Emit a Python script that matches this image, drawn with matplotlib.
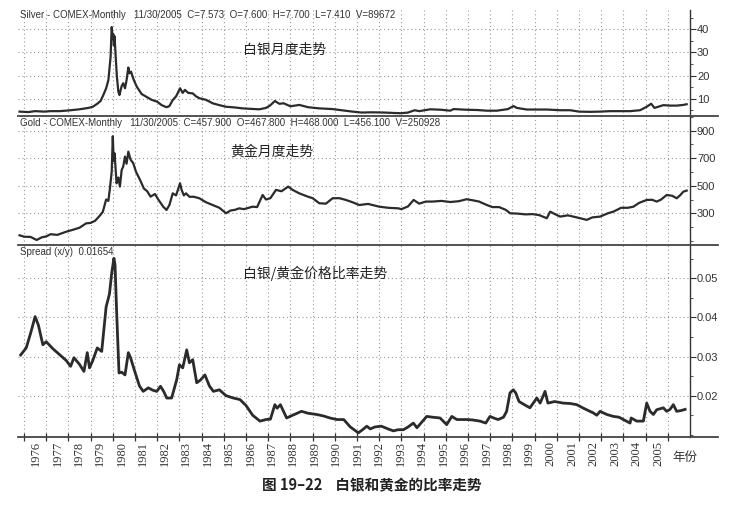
import matplotlib
matplotlib.use("Agg")
import matplotlib.pyplot as plt
from matplotlib.lines import Line2D
from matplotlib.ticker import MultipleLocator, FixedLocator

plt.rcParams['font.family'] = ['Liberation Sans', 'Noto Sans CJK SC', 'DejaVu Sans']

# 白银月度价格
silver_t = [1975.8, 1976.2, 1976.5, 1976.9, 1977.2, 1977.6, 1978.0, 1978.5, 1978.9, 1979.1,
            1979.3, 1979.45, 1979.57, 1979.7, 1979.8, 1979.9, 1979.95, 1980.0, 1980.02, 1980.05,
            1980.08, 1980.12, 1980.18, 1980.25, 1980.3, 1980.4, 1980.47, 1980.55, 1980.62, 1980.7,
            1980.75, 1980.82, 1980.95, 1981.08, 1981.3, 1981.5, 1981.75, 1982.0, 1982.2, 1982.42,
            1982.55, 1982.7, 1982.85, 1983.03, 1983.15, 1983.25, 1983.4, 1983.6, 1983.75, 1983.9,
            1984.2, 1984.5, 1984.8, 1985.1, 1985.5, 1985.85, 1986.2, 1986.6, 1986.9, 1987.08,
            1987.3, 1987.5, 1987.7, 1988.0, 1988.4, 1988.8, 1989.3, 1989.9, 1990.3, 1990.8,
            1991.2, 1991.7, 1992.2, 1992.7, 1993.0, 1993.3, 1993.6, 1993.8, 1994.3, 1994.8,
            1995.2, 1995.35, 1995.95, 1996.4, 1996.85, 1997.3, 1997.8, 1998.05, 1998.2, 1998.65,
            1999.1, 1999.55, 2000.15, 2000.6, 2001.0, 2001.5, 2001.95, 2002.4, 2002.85, 2003.3,
            2003.75, 2004.05, 2004.25, 2004.4, 2004.6, 2004.8, 2005.1, 2005.4, 2005.7, 2005.85]
silver_v = [4.4, 4.2, 4.6, 4.4, 4.6, 4.6, 4.9, 5.4, 6.0, 6.5,
            7.8, 9.0, 11.5, 14.5, 18, 28, 41, 36, 38, 33,
            37, 30, 20, 13, 11.6, 15.5, 16.7, 14.5, 18, 23.5,
            21, 21.7, 18, 15.2, 12, 10.9, 9.5, 8.7, 7.2, 6.3,
            6.8, 9.4, 11, 14.5, 12.5, 13.8, 12.5, 12.3, 11, 10.2,
            9.5, 8, 7.2, 6.5, 6.2, 5.8, 5.6, 5.4, 6.0, 7.0,
            9.0, 7.8, 8.0, 6.7, 7.3, 6.3, 5.8, 5.5, 5.0, 4.4,
            4.0, 4.1, 4.0, 3.8, 3.7, 4.0, 5.0, 4.6, 5.4, 5.2,
            4.8, 5.5, 5.2, 5.1, 4.8, 4.8, 5.5, 6.8, 6.0, 5.3,
            5.3, 5.3, 5.0, 5.0, 4.4, 4.3, 4.4, 4.6, 4.6, 4.6,
            5.0, 6.5, 7.8, 6.0, 6.6, 7.2, 7.0, 7.0, 7.3, 7.6]

# 黄金月度价格
gold_t = [1975.8, 1976.0, 1976.3, 1976.57, 1976.8, 1977.0, 1977.2, 1977.5, 1977.9, 1978.2,
          1978.5, 1978.8, 1979.0, 1979.2, 1979.4, 1979.55, 1979.7, 1979.8, 1979.87, 1979.95,
          1980.0, 1980.04, 1980.08, 1980.13, 1980.17, 1980.25, 1980.32, 1980.4, 1980.47, 1980.55,
          1980.62, 1980.7, 1980.8, 1980.92, 1981.05, 1981.23, 1981.4, 1981.55, 1981.7, 1981.9,
          1982.05, 1982.27, 1982.42, 1982.55, 1982.7, 1982.85, 1983.03, 1983.1, 1983.2, 1983.3,
          1983.45, 1983.65, 1983.9, 1984.2, 1984.5, 1984.8, 1985.1, 1985.3, 1985.5, 1985.7,
          1985.9, 1986.3, 1986.5, 1986.75, 1986.9, 1987.1, 1987.35, 1987.6, 1987.9, 1988.1,
          1988.4, 1988.8, 1989.0, 1989.3, 1989.6, 1989.9, 1990.2, 1990.5, 1990.8, 1991.1,
          1991.5, 1992.0, 1992.4, 1992.86, 1993.0, 1993.3, 1993.55, 1993.8, 1994.1, 1994.4,
          1994.8, 1995.2, 1995.6, 1995.93, 1996.2, 1996.5, 1996.85, 1997.1, 1997.4, 1997.7,
          1997.9, 1998.2, 1998.6, 1998.9, 1999.2, 1999.55, 1999.7, 1999.9, 2000.15, 2000.5,
          2000.9, 2001.35, 2001.6, 2001.95, 2002.3, 2002.55, 2002.9, 2003.2, 2003.45, 2003.7,
          2004.05, 2004.3, 2004.5, 2004.7, 2004.95, 2005.2, 2005.4, 2005.55, 2005.7, 2005.85]
gold_v = [140, 130, 128, 106, 125, 132, 148, 143, 166, 180,
          195, 227, 230, 245, 280, 310, 400, 390, 480, 600,
          860, 680, 736, 620, 518, 560, 494, 615, 640, 712,
          660, 748, 690, 664, 600, 542, 480, 460, 421, 440,
          400, 348, 324, 360, 445, 430, 518, 470, 430, 445,
          420, 420, 409, 380, 360, 340, 300, 320, 325, 336,
          330, 348, 345, 433, 400, 410, 470, 460, 494, 470,
          445, 420, 410, 373, 370, 409, 410, 397, 380, 360,
          368, 348, 340, 336, 330, 350, 397, 370, 385, 385,
          390, 382, 388, 402, 395, 385, 360, 345, 345, 325,
          300, 298, 292, 294, 287, 264, 312, 295, 276, 285,
          270, 252, 270, 276, 300, 312, 340, 340, 348, 375,
          397, 398, 385, 400, 433, 427, 409, 430, 457, 465]

# 白银/黄金价格比率
spread_t = [1975.85, 1976.1, 1976.3, 1976.5, 1976.65, 1976.85, 1977.0, 1977.3, 1977.6, 1977.9,
            1978.1, 1978.25, 1978.5, 1978.7, 1978.85, 1978.95, 1979.1, 1979.3, 1979.5, 1979.7,
            1979.85, 1979.95, 1980.05, 1980.1, 1980.17, 1980.28, 1980.4, 1980.55, 1980.7, 1980.8,
            1981.0, 1981.2, 1981.37, 1981.6, 1981.8, 1981.98, 1982.15, 1982.3, 1982.43, 1982.65,
            1982.88, 1983.0, 1983.15, 1983.33, 1983.45, 1983.6, 1983.78, 1983.95, 1984.15, 1984.35,
            1984.53, 1984.8, 1985.1, 1985.43, 1985.73, 1986.0, 1986.3, 1986.63, 1986.9, 1987.1,
            1987.3, 1987.4, 1987.55, 1987.83, 1988.1, 1988.5, 1988.8, 1989.18, 1989.5, 1989.78,
            1990.1, 1990.4, 1990.7, 1991.06, 1991.25, 1991.44, 1991.6, 1991.8, 1992.1, 1992.4,
            1992.64, 1992.85, 1993.09, 1993.3, 1993.54, 1993.7, 1994.14, 1994.4, 1994.74, 1995.04,
            1995.27, 1995.5, 1995.94, 1996.2, 1996.54, 1996.8, 1996.99, 1997.2, 1997.36, 1997.6,
            1997.74, 1997.89, 1998.04, 1998.15, 1998.3, 1998.42, 1998.6, 1998.79, 1999.1, 1999.25,
            1999.47, 1999.6, 1999.9, 2000.29, 2000.6, 2000.9, 2001.2, 2001.64, 2001.8, 2001.95,
            2002.25, 2002.55, 2002.8, 2003.0, 2003.3, 2003.35, 2003.6, 2003.9, 2004.05, 2004.2,
            2004.35, 2004.5, 2004.8, 2004.95, 2005.1, 2005.25, 2005.4, 2005.6, 2005.78]
spread_v = [.0304, .0322, .036, .0402, .038, .033, .0338, .032, .0305, .029,
            .0275, .0297, .028, .0262, .031, .0271, .029, .0322, .0313, .0427,
            .046, .0513, .0551, .0535, .0419, .0258, .026, .0253, .031, .0297,
            .026, .0225, .0211, .0220, .0214, .0211, .0224, .021, .0194, .0194,
            .0241, .0279, .0271, .0317, .0284, .0292, .0233, .024, .0253, .0225,
            .0211, .0215, .020, .0194, .019, .0175, .015, .0135, .0139, .014,
            .0177, .0168, .0177, .0143, .015, .016, .0155, .0152, .0148, .0143,
            .0139, .0139, .012, .0105, .0113, .0122, .0115, .012, .0122, .0115,
            .011, .0113, .0113, .012, .013, .0118, .0147, .0145, .0143, .0126,
            .0147, .0139, .0139, .0138, .0135, .013, .0147, .0142, .0139, .0145,
            .016, .0207, .0215, .0207, .0185, .0181, .0175, .0169, .0194, .0181,
            .0211, .0181, .0185, .0181, .0180, .0177, .0168, .0156, .0150, .016,
            .0152, .0147, .0145, .0139, .013, .0143, .0135, .0135, .0181, .016,
            .0152, .0164, .0169, .016, .0165, .0177, .016, .0162, .0165]

years = list(range(1976, 2006))
year_labels = [str(y) for y in years]

W, H = 730, 505
fig = plt.figure(figsize=(W / 100, H / 100), dpi=100)
fig.patch.set_facecolor('white')

def add_panel(top, bottom):
    ax = fig.add_axes([18 / W, 1 - bottom / H, 672 / W, (bottom - top) / H])
    ax.set_xlim(1975.73, 2006.0)
    for s in ['left', 'top', 'bottom']:
        ax.spines[s].set_visible(False)
    ax.spines['right'].set_color('#333333')
    ax.spines['right'].set_linewidth(1.0)
    ax.yaxis.tick_right()
    ax.tick_params(axis='y', which='major', direction='out', length=4, labelsize=8,
                   pad=1, colors='#333333')
    ax.tick_params(axis='y', which='minor', direction='out', length=2, colors='#333333')
    ax.set_xticks(years)
    ax.grid(True, which='major', ls=(0, (1, 2.5)), color='#999999', lw=0.8)
    return ax

line_col = '#2b2b2b'

# 白银
ax1 = add_panel(10, 116)
ax1.plot(silver_t, silver_v, color=line_col, lw=1.6)
ax1.set_ylim(2.5, 48.4)
ax1.set_yticks([10, 20, 30, 40])
ax1.yaxis.set_minor_locator(MultipleLocator(5))
ax1.tick_params(axis='x', length=0, labelbottom=False)

# 黄金
ax2 = add_panel(116, 245)
ax2.plot(gold_t, gold_v, color=line_col, lw=1.6)
ax2.set_ylim(69.5, 1007)
ax2.set_yticks([300, 500, 700, 900])
ax2.yaxis.set_minor_locator(MultipleLocator(100))
ax2.tick_params(axis='x', length=0, labelbottom=False)

# 比率
ax3 = add_panel(245, 437)
ax3.plot(spread_t, spread_v, color=line_col, lw=2.0)
ax3.set_ylim(0.00944, 0.0585)
ax3.set_yticks([0.02, 0.03, 0.04, 0.05])
ax3.set_yticklabels(['0.02', '0.03', '0.04', '0.05'])
ax3.yaxis.set_minor_locator(MultipleLocator(0.005))
ax3.tick_params(axis='x', which='major', direction='inout', length=6, width=0.9,
                colors='#333333', labelbottom=False)
# 年份标签（书中排版略有偏移）
label_pos = [1976 + (36 + (y - 1976) * 21.45 - 24) / 22.2 for y in years]
ax3.xaxis.remove_overlapping_locs = False
ax3.xaxis.set_minor_locator(FixedLocator(label_pos))
ax3.set_xticklabels(year_labels, minor=True, rotation=90, fontsize=9,
                    family='Liberation Serif', color='#333333')
ax3.tick_params(axis='x', which='minor', length=0, pad=3)

# 分隔线
for yy in [116, 245, 437]:
    fig.add_artist(Line2D([18 / W, 718 / W], [1 - yy / H] * 2, transform=fig.transFigure,
                          color='#444444', lw=1.3))

def ftxt(x, y, s, **kw):
    fig.text(x / W, 1 - y / H, s, va='center', **kw)

ftxt(20, 15, 'Silver - COMEX-Monthly   11/30/2005  C=7.573  O=7.600  H=7.700  L=7.410  V=89672',
     fontsize=7, color='#333333')
ftxt(20, 123, 'Gold - COMEX-Monthly   11/30/2005  C=457.900  O=467.800  H=468.000  L=456.100  V=250928',
     fontsize=7, color='#333333')
ftxt(20, 252, 'Spread (x/y)  0.01654', fontsize=7, color='#333333')

cjk = ['Noto Sans CJK SC', 'DejaVu Sans']
ftxt(243, 50, '白银月度走势', fontsize=10, family=cjk, color='#222222')
ftxt(230, 152, '黄金月度走势', fontsize=10, family=cjk, color='#222222')
ftxt(243, 273, '白银/黄金价格比率走势', fontsize=10, family=cjk, color='#222222')
ftxt(672, 457, '年份', fontsize=9, family=cjk, color='#333333')
fig.text(372 / W, 1 - 485 / H, '图 19–22    白银和黄金的比率走势', ha='center', va='center',
         fontsize=10.5, fontweight='bold', family=cjk, color='#222222')

fig.savefig('out.png', dpi=100)
